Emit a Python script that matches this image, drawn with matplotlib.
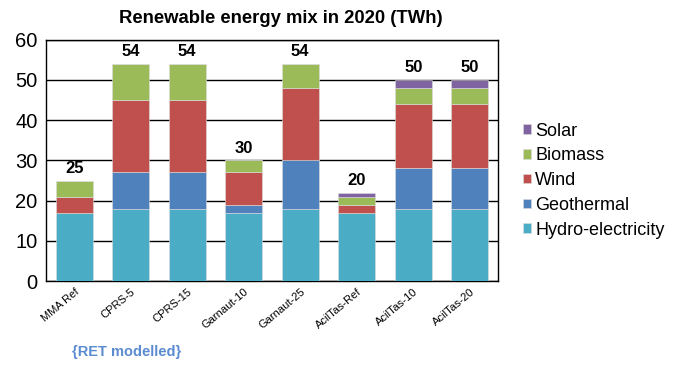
import numpy as np
import matplotlib.pyplot as plt

plt.rcParams['font.family'] = ['Liberation Sans', 'DejaVu Sans']

scenarios = ["MMA Ref", "CPRS-5", "CPRS-15", "Garnaut-10", "Garnaut-25",
             "AcilTas-Ref", "AcilTas-10", "AcilTas-20"]
hydro = [17, 18, 18, 17, 18, 17, 18, 18]
geothermal = [0, 9, 9, 2, 12, 0, 10, 10]
wind = [4, 18, 18, 8, 18, 2, 16, 16]
biomass = [4, 9, 9, 3, 6, 2, 4, 4]
solar = [0, 0, 0, 0, 0, 1, 2, 2]
totals = [25, 54, 54, 30, 54, 20, 50, 50]

series = [("Hydro-electricity", hydro, "#4BACC6"),
          ("Geothermal", geothermal, "#4F81BD"),
          ("Wind", wind, "#C0504D"),
          ("Biomass", biomass, "#9BBB59"),
          ("Solar", solar, "#8064A2")]

fig = plt.figure(figsize=(6.86, 3.67), dpi=100)
ax = fig.add_axes([0.067, 0.234, 0.659, 0.658])

x = np.arange(len(scenarios))
bottom = np.zeros(len(scenarios))
handles = []
for name, vals, col in series:
    b = ax.bar(x, vals, 0.65, bottom=bottom, color=col, edgecolor="#dddddd",
               linewidth=0.4, label=name, zorder=3)
    handles.append(b)
    bottom += np.array(vals)

for xi, top, lab in zip(x, bottom, totals):
    ax.text(xi, top + 1.2, str(lab), ha="center", va="bottom",
            fontsize=12, fontweight="bold")

ax.set_xlim(-0.5, 7.5)
ax.set_ylim(0, 60)
ax.set_yticks(range(0, 61, 10))
ax.yaxis.grid(True, color="black", linewidth=1.0, zorder=0)
ax.tick_params(axis="y", labelsize=14.5, length=0, pad=6)
ax.tick_params(axis="x", length=0, pad=4)
ax.set_xticks(x)
ax.set_xticklabels(scenarios, rotation=40, ha="right", rotation_mode="anchor",
                   fontsize=8)
for s in ax.spines.values():
    s.set_linewidth(1.0)

ax.set_title("Renewable energy mix in 2020 (TWh)", fontsize=13.3,
             fontweight="bold", pad=12, x=0.52)

fig.text(0.105, 0.03, "{RET modelled}", color="#5B8BD0", fontsize=10.5,
         fontweight="bold")

leg = fig.legend(handles[::-1], [s[0] for s in series][::-1],
                 loc="center left", bbox_to_anchor=(0.738, 0.508),
                 frameon=False, fontsize=13, handlelength=0.45,
                 handleheight=0.45, handletextpad=0.25, labelspacing=0.43)

fig.savefig("out.png", dpi=100)
